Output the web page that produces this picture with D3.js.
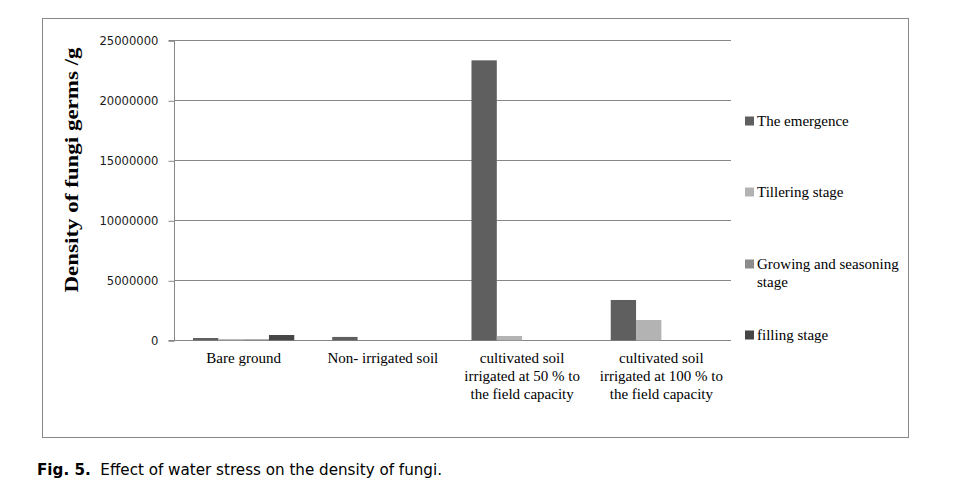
<!DOCTYPE html>
<html><head><meta charset="utf-8">
<script src="https://cdn.jsdelivr.net/npm/d3@7"></script>
<style>body{margin:0;background:#fff}svg{display:block}</style>
</head><body>
<svg id="c" width="955" height="490"></svg>
<script>
const categories = [
  ["Bare ground"],
  ["Non- irrigated soil"],
  ["cultivated soil","irrigated at 50 % to","the field capacity"],
  ["cultivated soil","irrigated at 100 % to","the field capacity"]
];
const seriesNames = [["The emergence"],["Tillering stage"],["Growing and seasoning","stage"],["filling stage"]];
const seriesColors = ["#5f5f5f","#b3b3b3","#8c8c8c","#464646"];
const emergence = [190000, 280000, 23330000, 3360000];
const tillering = [100000, 0, 360000, 1690000];
const growing   = [80000, 0, 0, 0];
const filling   = [440000, 0, 0, 0];
const yTicks = [0,5000000,10000000,15000000,20000000,25000000];
const caption = ["Fig. 5.", "Effect of water stress on the density of fungi."];

const series = [emergence, tillering, growing, filling];
const svg = d3.select("#c");

svg.append("rect").attr("x",42.5).attr("y",18.5).attr("width",866).attr("height",419)
  .attr("fill","none").attr("stroke","#888").attr("stroke-width",1);

const x0 = 174, x1 = 731, yTop = 40.3, yBot = 340.3;
const x = d3.scaleBand().domain(d3.range(categories.length)).range([x0,x1]).paddingInner(0).paddingOuter(0);
const y = d3.scaleLinear().domain([0,25000000]).range([yBot,yTop]);

svg.append("g").selectAll("line").data(yTicks).join("line")
  .attr("x1",x0).attr("x2",x1).attr("y1",d=>Math.round(y(d))+0.5).attr("y2",d=>Math.round(y(d))+0.5)
  .attr("stroke","#888").attr("stroke-width",1);

const yAxis = d3.axisLeft(y).tickValues(yTicks).tickFormat(d3.format("d")).tickSize(6).tickPadding(10);
const ga = svg.append("g").attr("transform",`translate(${x0+0.5},0.5)`).call(yAxis);
ga.select(".domain").attr("stroke","#888").attr("d",`M-6,${Math.round(yTop)}H0V${Math.round(yBot)}H-6`);
ga.selectAll(".tick line").attr("stroke","#888");
ga.selectAll(".tick text").attr("font-family","DejaVu Sans, Verdana, sans-serif").attr("font-size","11.6px").attr("fill","#1a1a1a");

const bw = x.bandwidth()/5.5;
const gap = (x.bandwidth()-4*bw)/2;
const xs = d3.scaleBand().domain(d3.range(4)).range([gap, gap+4*bw]).padding(0);
series.forEach((vals,si)=>{
  svg.append("g").selectAll("rect").data(vals).join("rect")
    .attr("x",(d,i)=>x(i)+xs(si))
    .attr("width",xs.bandwidth())
    .attr("y",d=>y(d))
    .attr("height",d=>yBot-y(d))
    .attr("fill",seriesColors[si]);
});

categories.forEach((lines,i)=>{
  const t = svg.append("text").attr("x",x(i)+x.bandwidth()/2).attr("y",363)
    .attr("text-anchor","middle").attr("font-family","Liberation Serif, Times New Roman, serif")
    .attr("font-size","15px").attr("fill","#000");
  lines.forEach((l,j)=>t.append("tspan").attr("x",x(i)+x.bandwidth()/2).attr("dy",j?18:0).text(l));
});

svg.append("text").attr("transform","translate(78,170) rotate(-90)")
  .attr("text-anchor","middle").attr("font-family","Liberation Serif, Times New Roman, serif")
  .attr("font-weight","bold").attr("font-size","19px").attr("fill","#000")
  .attr("textLength",245).attr("lengthAdjust","spacingAndGlyphs")
  .text("Density of fungi germs /g");

const legY = [121, 192, 264, 335];
seriesNames.forEach((lines,i)=>{
  svg.append("rect").attr("x",745).attr("y",legY[i]-4.5).attr("width",9).attr("height",9).attr("fill",seriesColors[i]);
  const t = svg.append("text").attr("x",757).attr("y",legY[i]+5)
    .attr("font-family","Liberation Serif, Times New Roman, serif").attr("font-size","15px").attr("fill","#000");
  lines.forEach((l,j)=>t.append("tspan").attr("x",757).attr("dy",j?18:0).text(l));
});

const cap = svg.append("text").attr("x",37).attr("y",475)
  .attr("font-family","DejaVu Sans, Verdana, sans-serif").attr("font-size","15px").attr("fill","#000")
  .attr("textLength",405).attr("lengthAdjust","spacingAndGlyphs");
cap.append("tspan").attr("font-weight","bold").text(caption[0]);
cap.append("tspan").text("\u00a0 " + caption[1]);
</script>
</body></html>
